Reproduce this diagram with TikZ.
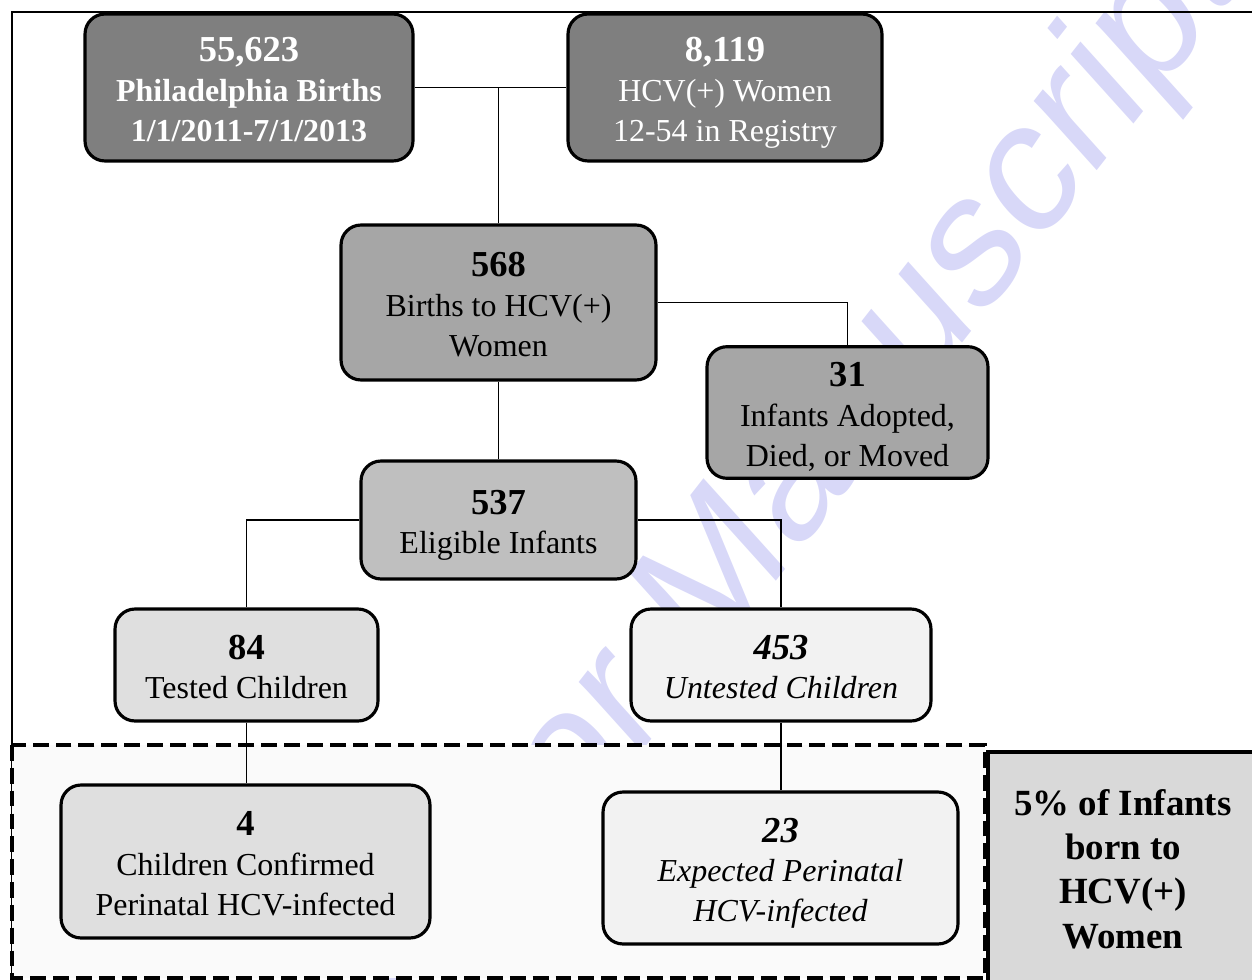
\documentclass[tikz,border=0pt]{standalone}
\usepackage{fontspec}
\setmainfont{Liberation Serif}
\newfontfamily\wmfont{Liberation Sans}
\newcommand\boxsize{\fontsize{18.2}{22.7}\selectfont}
\newcommand\num[1]{\rule{0pt}{22.7pt}{\fontsize{20.8}{22.7}\selectfont\bfseries #1}}
\definecolor{darkbox}{HTML}{7F7F7F}
\definecolor{midbox}{HTML}{A6A6A6}
\definecolor{eligbox}{HTML}{BFBFBF}
\definecolor{lightbox}{HTML}{DFDFDF}
\definecolor{palebox}{HTML}{F2F2F2}
\definecolor{notegray}{HTML}{D9D9D9}
\definecolor{zonefill}{HTML}{FAFAFA}
\definecolor{wmblue}{HTML}{D8D8F8}
\tikzset{
  box/.style 2 args={draw, line width=1.8pt, rounded corners=0.4cm, align=center,
    inner sep=0pt, minimum width=#1, minimum height=#2, font=\boxsize},
  link/.style={line width=1.1pt},
}
\begin{document}
\begin{tikzpicture}[x=0.02cm,y=-0.02cm]
  \clip (0,0) rectangle (1252,980);
  % watermark behind everything
  \begin{scope}[xscale=0.84]
    \node[anchor=base east, rotate=47, transform shape, text=wmblue, inner sep=0pt,
      font=\wmfont\fontsize{110pt}{110pt}\selectfont] (wm) at (1481,-16) {Author Manuscript};
  \end{scope}
  \draw[line width=1.1pt] (12,12) rectangle (1300,1020);
  \draw[line width=2pt, dash pattern=on 9pt off 4pt, fill=zonefill] (12,745) rectangle (985,978);
  \draw[line width=2.2pt, fill=notegray] (988,752) rectangle (1300,1020);
  \node[align=center, inner sep=0pt, font=\bfseries\fontsize{21}{25.3}\selectfont] (note) at (1123,869)
    {5\% of Infants\\born to\\HCV(+)\\Women};

  \node[box={6.56cm}{2.94cm}, fill=darkbox, text=white, font=\boxsize\bfseries] (births) at (249,87.5)
    {\num{55,623}\\Philadelphia Births\\1/1/2011-7/1/2013\strut};
  \node[box={6.28cm}{2.94cm}, fill=darkbox, text=white] (women) at (725,87.5)
    {\num{8,119}\\HCV(+) Women\\12-54 in Registry\strut};
  \node[box={6.3cm}{3.1cm}, fill=midbox] (hcvbirths) at (498.5,302.5)
    {\num{568}\\Births to HCV(+)\\Women\strut};
  \node[box={5.62cm}{2.5cm}, fill=midbox] (lost) at (847.5,412.5)
    {\num{31}\\Infants Adopted,\\Died, or Moved\strut};
  \node[box={5.5cm}{2.36cm}, fill=eligbox] (eligible) at (498.5,520)
    {\num{537}\\Eligible Infants\strut};
  \node[box={5.26cm}{2.24cm}, fill=lightbox] (tested) at (246.5,665)
    {\num{84}\\Tested Children\strut};
  \node[box={6cm}{2.24cm}, fill=palebox, font=\boxsize\itshape] (untested) at (781,665)
    {\num{453}\\Untested Children\strut};
  \node[box={7.38cm}{3.06cm}, fill=lightbox] (confirmed) at (245.5,861.5)
    {\num{4}\\Children Confirmed\\Perinatal HCV-infected\strut};
  \node[box={7.1cm}{3.04cm}, fill=palebox, font=\boxsize\itshape] (expected) at (780.5,868)
    {\num{23}\\Expected Perinatal\\HCV-infected\strut};

  \draw[link] (births) -- (women);
  \draw[link] (hcvbirths) -- (hcvbirths |- births);
  \draw[link] (hcvbirths.east) -| (lost.north);
  \draw[link] (hcvbirths) -- (eligible);
  \draw[link] (eligible.west) -| (tested.north);
  \draw[link] (eligible.east) -| (untested.north);
  \draw[link] (tested) -- (tested |- confirmed.north);
  \draw[link] (untested) -- (untested |- expected.north);
\end{tikzpicture}
\end{document}
